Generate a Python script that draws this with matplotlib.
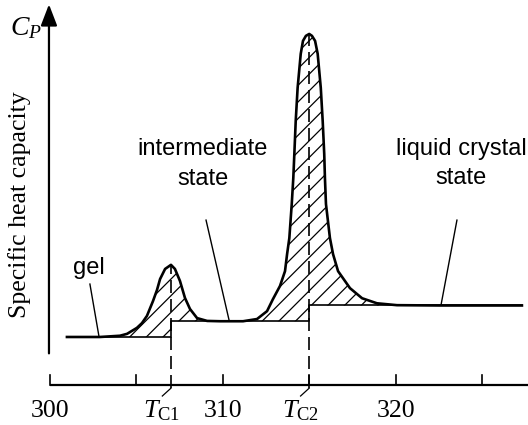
import numpy as np
from matplotlib import pyplot as plt

plt.rcParams['mathtext.fontset'] = 'custom'
plt.rcParams['mathtext.rm'] = 'Liberation Serif'
plt.rcParams['mathtext.it'] = 'Liberation Serif:italic'
plt.rcParams['hatch.linewidth'] = 0.9

# DSC trace: temperature (K offset scale) vs specific heat
temp = [300.98, 302.89, 303.47, 304.05, 304.46, 305.03, 305.32, 305.61, 305.96,
        306.19, 306.37, 306.66, 307.00, 307.23, 307.52, 307.81, 308.10, 308.51,
        309.09, 309.84, 310.42, 311.17, 311.98, 312.56, 312.90, 313.31, 313.60,
        313.72, 313.85, 313.99, 314.08, 314.14, 314.22, 314.33, 314.51, 314.64,
        314.81, 315.00, 315.16, 315.34, 315.49, 315.67, 315.78, 315.87, 315.91,
        315.97, 316.20, 316.38, 316.67, 317.36, 318.06, 318.92, 320.08, 322.57,
        327.31]
cp = [1.00, 1.00, 1.02, 1.04, 1.10, 1.29, 1.44, 1.67, 2.14,
      2.49, 2.84, 3.16, 3.29, 3.16, 2.78, 2.24, 1.89, 1.60,
      1.51, 1.50, 1.50, 1.50, 1.57, 1.82, 2.20, 2.62, 3.09,
      3.63, 4.14, 5.22, 6.05, 6.81, 7.86, 8.91, 9.99, 10.40,
      10.56, 10.62, 10.56, 10.40, 9.99, 8.91, 7.86, 6.81, 6.05,
      5.22, 4.14, 3.63, 3.09, 2.55, 2.23, 2.07, 2.01, 2.00,
      2.00]

# stepped baseline (gel -> intermediate -> liquid crystal)
step_t = [300.98, 307.0, 307.0, 315.0, 315.0, 327.31]
step_cp = [1.0, 1.0, 1.5, 1.5, 2.0, 2.0]

t_c = [307.0, 315.0]
t_c_names = ['C1', 'C2']
t_c_peak = [3.29, 10.62]

xticks_major = [300, 310, 320]
xticks_minor = [300, 305, 310, 315, 320, 325]

fig = plt.figure(figsize=(5.28, 4.25), dpi=100)
ax = fig.add_axes([0, 0, 1, 1])
ax.set_xlim(297.106, 327.662)
ax.set_ylim(-1.794, 11.698)
ax.axis('off')

# hatched excess heat between curve and baseline
poly_t = list(temp) + step_t[::-1]
poly_cp = list(cp) + step_cp[::-1]
ax.fill(poly_t, poly_cp, facecolor='none', edgecolor='black', linewidth=0,
        hatch='//', zorder=1)

ax.plot(step_t, step_cp, color='black', lw=1.2, zorder=2)
ax.plot(temp, cp, color='black', lw=1.9, zorder=3, solid_joinstyle='round')

# axes
x_axis = -0.524
ax.plot([300, 327.662], [x_axis, x_axis], color='black', lw=1.6,
        solid_capstyle='butt')
for t in xticks_minor:
    ax.plot([t, t], [x_axis, x_axis + 0.32], color='black', lw=1.2)
for t in xticks_major:
    ax.text(t, -1.54, str(t), ha='center', va='baseline',
            family='Liberation Serif', fontsize=18.5)

ax.annotate('', xy=(299.94, 11.56), xytext=(299.94, 0.48),
            arrowprops=dict(arrowstyle='-|>,head_length=1.3,head_width=0.5',
                            color='black', lw=1.6, shrinkA=0, shrinkB=0,
                            mutation_scale=10))
ax.text(297.68, 10.59, '$C_P$', ha='left', va='baseline', fontsize=20)
ax.text(298.26, 5.19, 'Specific heat capacity', rotation=90,
        ha='center', va='center', family='Liberation Serif', fontsize=18.5)

# transition temperatures
for t, name, top in zip(t_c, t_c_names, t_c_peak):
    ax.plot([t, t], [x_axis - 0.1, top], color='black', lw=1.2,
            linestyle=(0, (7.8, 3.6)), zorder=4)
    ax.plot([t, t - 0.5], [x_axis - 0.1, x_axis - 0.35], color='black', lw=0.9)
    ax.text(t - 1.6, -1.54, '$T_{\\mathrm{%s}}$' % name, ha='left',
            va='baseline', fontsize=19)

# phase labels
sans = dict(family='Liberation Sans', fontsize=17, ha='center',
            va='baseline', linespacing=1.45, multialignment='center')
ax.text(302.26, 3.0, 'gel', **sans)
ax.plot([302.31, 302.83], [2.68, 1.03], color='black', lw=1.0)
ax.text(308.83, 5.83, 'intermediate\nstate', **sans)
ax.plot([309.03, 310.36], [4.71, 1.54], color='black', lw=1.0)
ax.text(323.81, 5.85, 'liquid crystal\nstate', **sans)
ax.plot([323.55, 322.63], [4.71, 2.02], color='black', lw=1.0)

fig.savefig('out.png', dpi=100)
